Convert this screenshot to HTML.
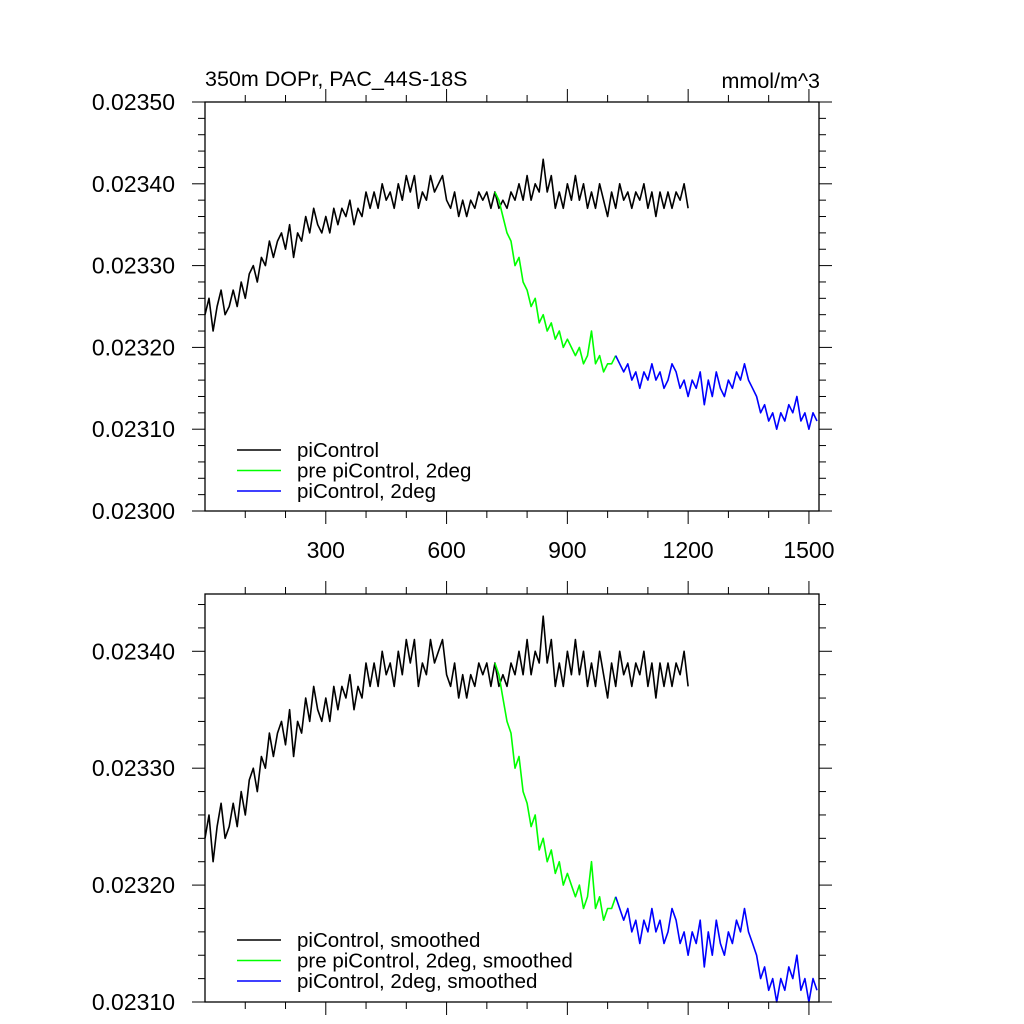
<!DOCTYPE html>
<html><head><meta charset="utf-8"><style>
html,body{margin:0;padding:0;background:#fff;width:1024px;height:1024px;overflow:hidden}
svg{font-family:"Liberation Sans",sans-serif}
</style></head><body>
<svg id="chart" width="1024" height="1024" xmlns="http://www.w3.org/2000/svg"></svg>
<script>
const blackStart=0, greenStart=720, blueStart=1020, stepYears=10;
const blackVals=[0.02324,0.02326,0.02322,0.02325,0.02327,0.02324,0.02325,0.02327,0.02325,0.02328,0.02326,0.02329,0.02330,0.02328,0.02331,0.02330,0.02333,0.02331,0.02333,0.02334,0.02332,0.02335,0.02331,0.02334,0.02333,0.02336,0.02334,0.02337,0.02335,0.02334,0.02336,0.02334,0.02337,0.02335,0.02337,0.02336,0.02338,0.02335,0.02337,0.02336,0.02339,0.02337,0.02339,0.02337,0.02340,0.02338,0.02339,0.02337,0.02340,0.02338,0.02341,0.02339,0.02341,0.02337,0.02339,0.02338,0.02341,0.02339,0.02340,0.02341,0.02338,0.02337,0.02339,0.02336,0.02338,0.02336,0.02338,0.02337,0.02339,0.02338,0.02339,0.02337,0.02339,0.02337,0.02338,0.02337,0.02339,0.02338,0.02340,0.02338,0.02341,0.02338,0.02340,0.02339,0.02343,0.02339,0.02341,0.02337,0.02339,0.02337,0.02340,0.02338,0.02341,0.02338,0.02340,0.02337,0.02339,0.02337,0.02340,0.02338,0.02336,0.02339,0.02337,0.02340,0.02338,0.02339,0.02337,0.02339,0.02338,0.02340,0.02337,0.02339,0.02336,0.02339,0.02337,0.02339,0.02337,0.02339,0.02338,0.02340,0.02337];
const greenVals=[0.02339,0.02338,0.02336,0.02334,0.02333,0.02330,0.02331,0.02328,0.02327,0.02325,0.02326,0.02323,0.02324,0.02322,0.02323,0.02321,0.02322,0.02320,0.02321,0.02320,0.02319,0.02320,0.02318,0.02319,0.02322,0.02318,0.02319,0.02317,0.02318,0.02318,0.02319];
const blueVals=[0.02319,0.02318,0.02317,0.02318,0.02316,0.02317,0.02315,0.02317,0.02316,0.02318,0.02316,0.02317,0.02315,0.02316,0.02318,0.02317,0.02315,0.02316,0.02314,0.02316,0.02315,0.02317,0.02313,0.02316,0.02314,0.02317,0.02315,0.02314,0.02316,0.02315,0.02317,0.02316,0.02318,0.02316,0.02315,0.02314,0.02312,0.02313,0.02311,0.02312,0.02310,0.02312,0.02311,0.02313,0.02312,0.02314,0.02311,0.02312,0.02310,0.02312,0.02311];
const xTicks=[300,600,900,1200,1500];
const topYTicks=[0.0230,0.0231,0.0232,0.0233,0.0234,0.0235];
const botYTicks=[0.0231,0.0232,0.0233,0.0234];
const topLegend=["piControl","pre piControl, 2deg","piControl, 2deg"];
const botLegend=["piControl, smoothed","pre piControl, 2deg, smoothed","piControl, 2deg, smoothed"];

const svg=document.getElementById('chart');
const NS="http://www.w3.org/2000/svg";
function mk(tag,attrs,parent){const e=document.createElementNS(NS,tag);for(const k in attrs)e.setAttribute(k,attrs[k]);(parent||svg).appendChild(e);return e;}
const X0=205,X1=819,XMIN=0,XMAX=1525;
function xs(v){return X0+(v-XMIN)/(XMAX-XMIN)*(X1-X0);}

function panel(name,top,bot,ymin,ymax,yticks,legend,labelX,legY){
  const g=mk('g',{});
  
  
  const ys=v=>bot-(v-ymin)/(ymax-ymin)*(bot-top);
  for(let v=100;v<XMAX;v+=100){const x=xs(v);const maj=v%300===0;const L=maj?13:7;
    mk('line',{x1:x,x2:x,y1:bot,y2:bot+L,stroke:'#000','stroke-width':1},g);
    mk('line',{x1:x,x2:x,y1:top,y2:top-L,stroke:'#000','stroke-width':1},g);}
  const mstep=0.00002;
  for(let i=Math.ceil(ymin/mstep-1e-6);i*mstep<=ymax+1e-9;i++){const v=i*mstep;const y=ys(v);
    const maj=Math.abs(v/0.0001-Math.round(v/0.0001))<1e-6;const L=maj?13:7;
    mk('line',{x1:X0,x2:X0-L,y1:y,y2:y,stroke:'#000','stroke-width':1},g);
    mk('line',{x1:X1,x2:X1+L,y1:y,y2:y,stroke:'#000','stroke-width':1},g);}
  yticks.forEach(v=>{const t=mk('text',{x:175,y:ys(v)+8,'text-anchor':'end','font-size':23},g);t.textContent=v.toFixed(5);
    });
  if(labelX) xTicks.forEach(v=>{const t=mk('text',{x:xs(v),y:bot+47,'text-anchor':'middle','font-size':23},g);t.textContent=v;
    });
  const series=[[blackVals,blackStart,'#000','black-series'],[greenVals,greenStart,'#00ff00','green-series'],[blueVals,blueStart,'#0000ff','blue-series']];
  series.forEach(([vals,st,col,nm])=>{
    const d=vals.map((v,i)=>(i?'L':'M')+xs(st+i*stepYears).toFixed(1)+','+Math.max(top,Math.min(bot,ys(v))).toFixed(1)).join('');
    const p=mk('path',{d:d,fill:'none',stroke:col,'stroke-width':1.6,'stroke-linejoin':'round'},g);
    });
  mk('rect',{x:X0,y:top,width:X1-X0,height:bot-top,fill:'none',stroke:'#000','stroke-width':1.3},g);
  const cols=['#000','#00ff00','#0000ff'];
  legend.forEach((s,i)=>{const y=legY+i*20.5;
    const l=mk('line',{x1:237,x2:281,y1:y,y2:y,stroke:cols[i],'stroke-width':1.6},g);
    
    const t=mk('text',{x:297,y:y+7,'font-size':20.5},g);t.textContent=s;
    });
}
panel('top-panel',102,511,0.0230,0.0235,topYTicks,topLegend,true,450);
panel('bottom-panel',594,1002,0.0231,0.023449,botYTicks,botLegend,false,940);
const t1=mk('text',{x:205,y:86,'font-size':21.5});t1.textContent='350m DOPr, PAC_44S-18S';

const t2=mk('text',{x:820,y:88,'font-size':21.5,'text-anchor':'end'});t2.textContent='mmol/m^3';

</script>
</body></html>
